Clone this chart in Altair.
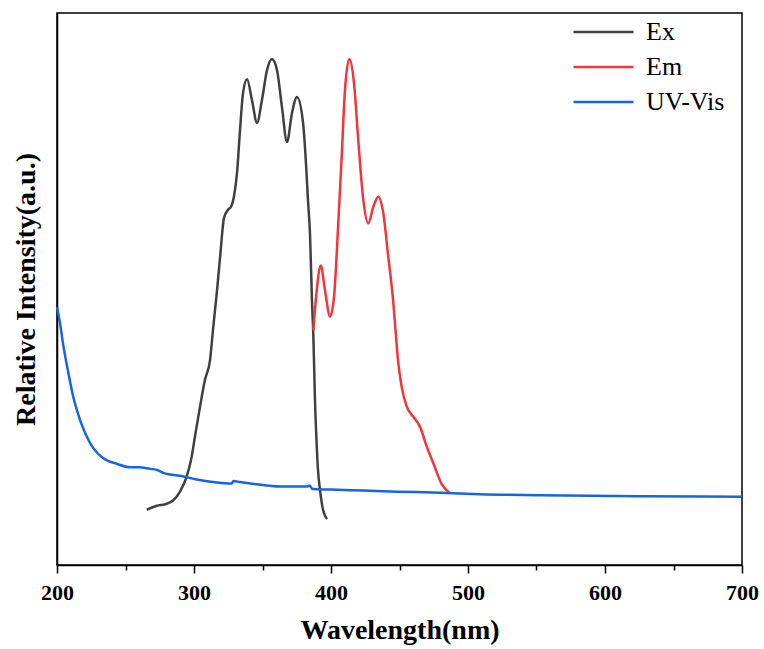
import altair as alt
import pandas as pd

# Excitation spectrum (nm, relative intensity)
ex_nm = [265.5, 272.8, 280.1, 284.9, 289.8, 294.7, 298.3, 300.7, 304.4, 308.0,
         311.7, 314.1, 316.6, 319.0, 321.9, 324.8, 327.0, 329.2, 331.4, 333.6,
         335.8, 338.7, 342.3, 346.0, 349.6, 353.3, 356.9, 360.6, 364.2, 367.9,
         371.5, 375.2, 379.6, 381.8, 383.2, 384.7, 386.1, 387.2, 388.3, 389.4,
         390.5, 392.0, 394.2, 397.1]
ex_val = [0.109, 0.117, 0.121, 0.128, 0.145, 0.175, 0.214, 0.254, 0.313, 0.366,
          0.405, 0.471, 0.537, 0.607, 0.686, 0.702, 0.708, 0.729, 0.775, 0.860,
          0.933, 0.960, 0.919, 0.874, 0.919, 0.978, 1.000, 0.978, 0.905, 0.836,
          0.893, 0.925, 0.874, 0.791, 0.721, 0.652, 0.524, 0.445, 0.326, 0.247,
          0.188, 0.148, 0.109, 0.091]

# Emission spectrum
em_nm = [387.1, 389.6, 392.5, 395.6, 399.3, 402.2, 405.3, 407.8, 410.2, 413.4,
         416.8, 419.9, 423.6, 427.2, 430.9, 434.5, 438.2, 441.8, 445.3, 447.1,
         448.9, 451.6, 455.3, 460.1, 465.0, 469.9, 474.7, 480.8, 486.9]
em_val = [0.464, 0.543, 0.592, 0.543, 0.491, 0.530, 0.675, 0.807, 0.939, 1.000,
          0.952, 0.840, 0.721, 0.675, 0.708, 0.728, 0.695, 0.609, 0.524, 0.464,
          0.405, 0.352, 0.313, 0.293, 0.273, 0.234, 0.201, 0.160, 0.142]

# UV-Vis absorption
uv_nm = [200.0, 202.2, 204.6, 208.2, 211.9, 216.8, 221.7, 226.5, 233.8, 243.6,
         253.3, 260.0, 267.9, 272.8, 277.6, 292.2, 302.0, 316.6, 327.5,
         328.8, 333.6, 350.6, 365.2, 382.3, 384.3, 386.6, 399.3, 423.6, 448.0,
         479.6, 508.8, 552.6, 625.5, 700.0]
uv_val = [0.510, 0.478, 0.434, 0.381, 0.332, 0.287, 0.254, 0.231, 0.211, 0.200,
          0.193, 0.193, 0.190, 0.188, 0.182, 0.175, 0.169, 0.163, 0.161,
          0.166, 0.164, 0.158, 0.155, 0.155, 0.157, 0.150, 0.149, 0.147, 0.145,
          0.143, 0.140, 0.138, 0.136, 0.135]

series = ["Ex", "Em", "UV-Vis"]
colors = ["#404040", "#f5343a", "#1664e2"]
major_ticks = [200, 300, 400, 500, 600, 700]
minor_ticks = [250, 350, 450, 550, 650]

frames = []
for name, xs, ys in [("Ex", ex_nm, ex_val), ("Em", em_nm, em_val), ("UV-Vis", uv_nm, uv_val)]:
    frames.append(pd.DataFrame({"wl": xs, "val": ys, "series": name}))
df = pd.concat(frames, ignore_index=True)

FONT = "Liberation Serif, Times New Roman, serif"
xscale = alt.Scale(domain=[200, 700], nice=False, zero=False)

lines = alt.Chart(df).mark_line(strokeWidth=2.5, interpolate="monotone").encode(
    x=alt.X("wl:Q", scale=xscale,
            axis=alt.Axis(values=major_ticks, title="Wavelength(nm)", format="d",
                          tickSize=8, tickWidth=1.5, labelPadding=9, titlePadding=13,
                          labelFlush=False, labelOverlap=False,
                          labelFont=FONT, labelFontSize=22, labelFontWeight="bold",
                          titleFont=FONT, titleFontSize=28, titleFontWeight="bold")),
    y=alt.Y("val:Q", scale=alt.Scale(domain=[0, 1.091], nice=False),
            axis=alt.Axis(title="Relative Intensity(a.u.)", labels=False, ticks=False,
                          titlePadding=17, titleFont=FONT, titleFontSize=28,
                          titleFontWeight="bold")),
    color=alt.Color("series:N", sort=series,
                    scale=alt.Scale(domain=series, range=colors),
                    legend=alt.Legend(title=None, orient="none", legendX=515, legendY=4,
                                      symbolType="stroke", symbolSize=3600,
                                      symbolStrokeWidth=2.5, clipHeight=30,
                                      rowPadding=5, labelOffset=11, padding=0,
                                      labelFont=FONT, labelFontSize=26,
                                      labelColor="#000000")),
    detail="series:N",
)

minor = alt.Chart(pd.DataFrame({"wl": minor_ticks})).mark_point(opacity=0).encode(
    x=alt.X("wl:Q", scale=xscale,
            axis=alt.Axis(values=minor_ticks, labels=False, title=None, domain=False,
                          tickSize=5, tickWidth=1.5, orient="bottom")),
)

chart = alt.layer(lines, minor).resolve_axis(x="independent").properties(
    width=685, height=552,
    autosize=alt.AutoSizeParams(type="none"),
    padding={"left": 57, "top": 13, "right": 22, "bottom": 84},
).configure(
    font=FONT
).configure_view(
    stroke="#000000", strokeWidth=1.5
).configure_axis(
    grid=False, domainColor="#000000", domainWidth=1.5, tickColor="#000000",
    labelColor="#000000", titleColor="#000000",
)

chart.save("out.html", embed_options={"renderer": "svg", "actions": False})
